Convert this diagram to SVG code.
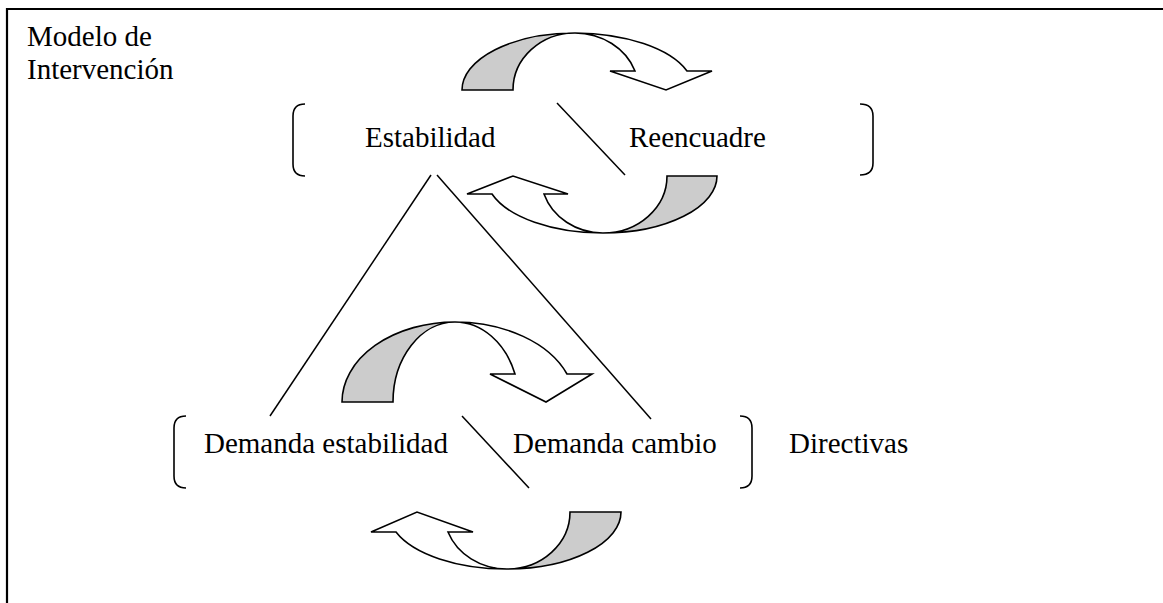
<svg xmlns="http://www.w3.org/2000/svg" width="1163" height="603" viewBox="0 0 1163 603">
  <style>
    .frame { fill: none; stroke: #000; stroke-width: 2.2; }
    .txt { font-family: "Liberation Serif", "Times New Roman", serif; font-size: 29px; fill: #000; }
    .link { stroke: #000; stroke-width: 1.5; fill: none; }
    .brace { fill: none; stroke: #000; stroke-width: 1.6; }
    .back { fill: #cccccc; stroke: #000; stroke-width: 1.6; stroke-linejoin: miter; }
    .front { fill: #fff; stroke: #000; stroke-width: 1.6; stroke-linejoin: miter; }
  </style>
  <rect width="1163" height="603" fill="#fff"/>

  <!-- outer frame (top and left edges) -->
  <path class="frame" d="M7,603 V9 H1163"/>

  <g id="title">
    <text class="txt" x="27" y="46">Modelo de</text>
    <text class="txt" x="27" y="79">Intervención</text>
  </g>

  <!-- connectors -->
  <g id="connectors">
    <line class="link" x1="557" y1="103" x2="625" y2="175"/>
    <line class="link" x1="431" y1="175" x2="270" y2="416"/>
    <line class="link" x1="437" y1="175" x2="651" y2="419"/>
    <line class="link" x1="462" y1="416" x2="529" y2="488"/>
  </g>

  <!-- upper level: Estabilidad / Reencuadre -->
  <g id="upper-level">
    <path class="brace" d="M305,104 Q293,104 293,116 V164 Q293,176 305,176"/>
    <path class="brace" d="M860,104 Q873,104 873,116 V163 Q873,175 860,175"/>
    <text id="estabilidad" class="txt" x="365" y="147">Estabilidad</text>
    <text id="reencuadre" class="txt" x="629" y="147">Reencuadre</text>
  </g>

  <!-- curved arrow over the upper level -->
  <g id="arrow-upper-top">
    <path class="back" d="M462,90 A113,57 0 0 1 575,33 A62,57 0 0 0 513,90 Z"/>
    <path class="front" d="M575,33 A120,57 0 0 1 687,71 L712,71 L666,90 L610,71 L635,71 A64,57 0 0 0 575,33 Z"/>
  </g>

  <!-- curved arrow under the upper level -->
  <g id="arrow-upper-bottom">
    <path class="back" d="M717,176 A114,57 0 0 1 603,233 A64,57 0 0 0 667,176 Z"/>
    <path class="front" d="M603,233 A117,57 0 0 1 492,194 L467,194 L513,176 L568,194 L544,194 A62,57 0 0 0 603,233 Z"/>
  </g>

  <!-- lower level: Demanda estabilidad / Demanda cambio -->
  <g id="lower-level">
    <path class="brace" d="M186,416 Q174,416 174,428 V476 Q174,488 186,488"/>
    <path class="brace" d="M740,416 Q752,416 752,428 V476 Q752,488 740,488"/>
    <text id="demanda-estabilidad" class="txt" x="204" y="453">Demanda estabilidad</text>
    <text id="demanda-cambio" class="txt" x="513" y="453">Demanda cambio</text>
  </g>

  <g id="directivas">
    <text class="txt" x="789" y="453">Directivas</text>
  </g>

  <!-- curved arrow over the lower level -->
  <g id="arrow-lower-top">
    <path class="back" d="M342,402 A113,80 0 0 1 455,322 A62,80 0 0 0 393,402 Z"/>
    <path class="front" d="M455,322 A120,80 0 0 1 567,374 L592,374 L546,402 L490,374 L515,374 A64,80 0 0 0 455,322 Z"/>
  </g>

  <!-- curved arrow under the lower level -->
  <g id="arrow-lower-bottom">
    <path class="back" d="M621,512 A114,57 0 0 1 507,569 A63,57 0 0 0 570,512 Z"/>
    <path class="front" d="M507,569 A118,57 0 0 1 396,532 L371,532 L417,512 L473,532 L448,532 A63,57 0 0 0 507,569 Z"/>
  </g>
</svg>
